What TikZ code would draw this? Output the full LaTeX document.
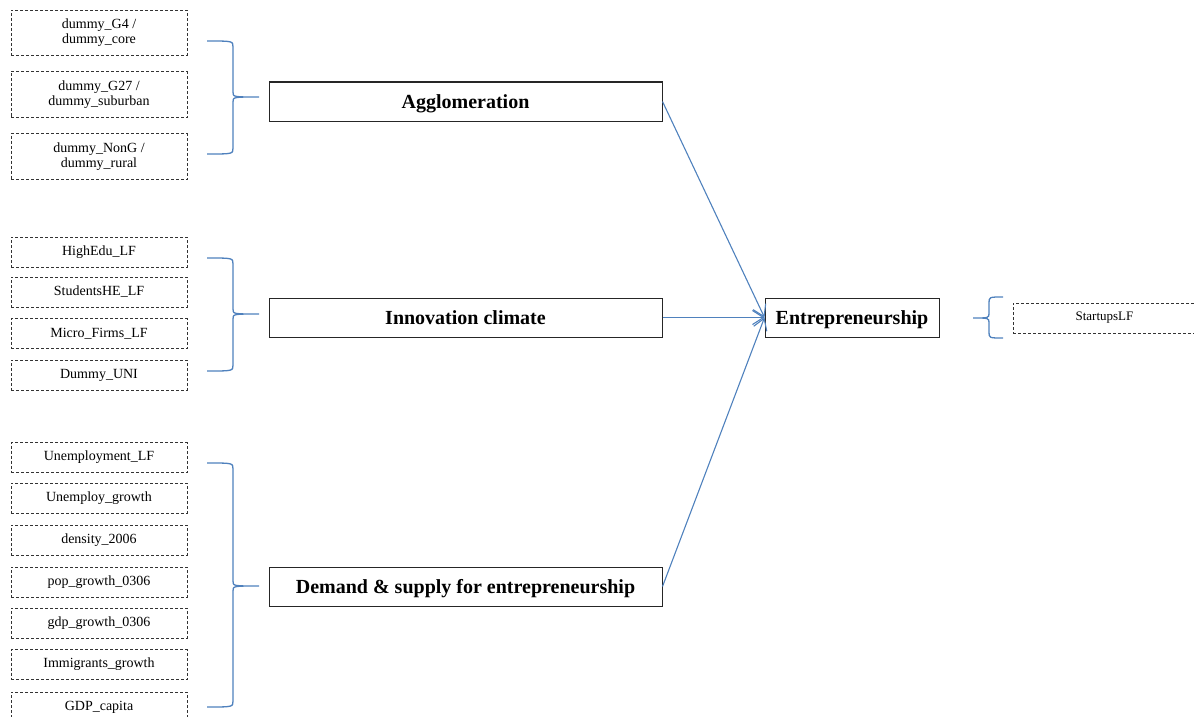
\documentclass[tikz,border=0pt]{standalone}
\usepackage{fontspec}
\setmainfont{Liberation Serif}
\usepackage{tikz}
\usetikzlibrary{positioning,calc,arrows.meta}

\definecolor{linkblue}{RGB}{79,129,189}

% #1 end x, #2 spine x, #3 tip x, #4 top y, #5 tip y, #6 bottom y
\newcommand{\bracepath}[6]{%
  \draw[brc] (#1,#4) .. controls (#2,#4) .. (#2,#4+6) -- (#2,#5-5)
    .. controls (#2,#5) .. (#3,#5) .. controls (#2,#5) .. (#2,#5+5)
    -- (#2,#6-6) .. controls (#2,#6) .. (#1,#6);}

\begin{document}
\begin{tikzpicture}[x=1pt,y=-1pt,
    varbox/.style={draw=black!80, line width=0.9pt, dash pattern=on 3pt off 2pt,
      minimum width=176pt, minimum height=30pt, inner sep=0pt, align=center,
      font=\fontsize{14}{15.5}\selectfont},
    factor/.style={draw=black!85, line width=1pt, minimum width=393pt,
      minimum height=39pt, inner sep=0pt, text height=13.5pt, text depth=0pt,
      font=\fontsize{20}{22}\selectfont\bfseries},
    brc/.style={linkblue, line width=1.3pt},
    link/.style={linkblue, line width=1.1pt, -{Straight Barb[length=11pt,width=14pt]}}]

    \useasboundingbox (0,0) rectangle (1194,717);

    % Agglomeration
    \node[varbox, minimum height=45pt] (g4) at (99,32.5) {dummy\_G4 /\\dummy\_core};
    \node[varbox, minimum height=46pt] (g27) at (99,94.5) {dummy\_G27 /\\dummy\_suburban};
    \node[varbox, minimum height=46pt] (nong) at (99,156.5) {dummy\_NonG /\\dummy\_rural};
    \bracepath{207}{233}{259}{41}{97}{154}
    \node[factor] (aggl) at (465.5,101.5) {Agglomeration};

    % Innovation climate
    \node[varbox] (hiedu) at (99,252) {HighEdu\_LF};
    \node[varbox] (stud) at (99,292) {StudentsHE\_LF};
    \node[varbox] (micro) at (99,333.5) {Micro\_Firms\_LF};
    \node[varbox] (uni) at (99,375) {Dummy\_UNI};
    \bracepath{207}{233}{259}{258}{314}{371}
    \node[factor] (innov) at (465.5,317.5) {Innovation climate};

    % Demand & supply
    \node[varbox] (unemp) at (99,457.5) {Unemployment\_LF};
    \node[varbox] (unempg) at (99,498) {Unemploy\_growth};
    \node[varbox] (dens) at (99,540) {density\_2006};
    \node[varbox] (popg) at (99,582) {pop\_growth\_0306};
    \node[varbox] (gdpg) at (99,623) {gdp\_growth\_0306};
    \node[varbox] (immig) at (99,664.5) {Immigrants\_growth};
    \node[varbox] (gdpc) at (99,707) {GDP\_capita};
    \bracepath{207}{233}{259}{463}{586}{707}
    \node[factor] (demand) at (465.5,586.5) {Demand \& supply for entrepreneurship};

    % Outcome
    \node[factor, minimum width=174pt] (entre) at (852,317.5) {Entrepreneurship};
    \bracepath{1003}{989}{973}{297}{318}{338}
    \node[varbox, minimum width=183pt, font=\fontsize{13}{15}\selectfont] (startups) at (1104.5,318) {StartupsLF};

    \draw[link] (aggl.east) -- (entre.west);
    \draw[link] (innov.east) -- (entre.west);
    \draw[link] (demand.east) -- (entre.west);

\end{tikzpicture}
\end{document}
